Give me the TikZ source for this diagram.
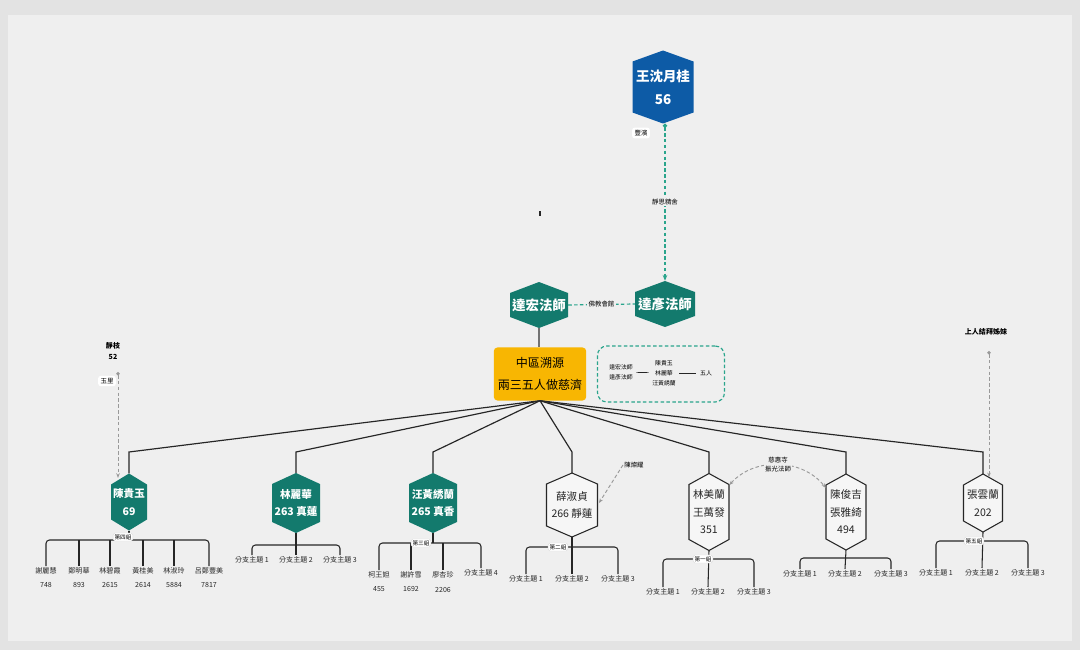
\documentclass[tikz,border=0pt]{standalone}
\usepackage{fontspec}
\setmainfont{Noto Sans CJK TC}
\usetikzlibrary{arrows.meta,calc}
\definecolor{hexteal}{HTML}{137A6D}
\definecolor{hexblue}{HTML}{0D5BA6}
\definecolor{hexyellow}{HTML}{F8B602}
\definecolor{dashteal}{HTML}{2AA58C}
\definecolor{bggray}{HTML}{EFEFEF}
\definecolor{framegray}{HTML}{E3E3E3}
\definecolor{linedark}{HTML}{262626}
\definecolor{hexwhite}{HTML}{F6F6F6}
% name, position, width, height, hexagon style, text style, text
\newcommand\hexnode[7]{%
  \path[#5] (#2) ++(0,-#4/2) -- ++(#3/2,11) -- ++(0,#4-22) -- ++(-#3/2,11)
    -- ++(-#3/2,-11) -- ++(0,-#4+22) -- cycle;
  \node[hextext, #6, minimum width=#3*0.3mm, minimum height=#4*0.3mm] (#1) at (#2) {#7};}
\begin{document}
\begin{tikzpicture}[x=0.03cm, y=-0.03cm,
    hextext/.style={inner sep=0pt, align=center},
    tealhex/.style={fill=hexteal},
    bluehex/.style={fill=hexblue},
    plainhex/.style={fill=hexwhite, draw=linedark, line width=0.9pt},
    bigtxt/.style={text=white, font=\bfseries\fontsize{11.5}{19.6}\selectfont},
    tealtxt/.style={text=white, font=\bfseries\fontsize{9}{15}\selectfont},
    plaintxt/.style={text=linedark, font=\fontsize{9}{15}\selectfont},
    fan/.style={draw=linedark, line width=1pt},
    branch/.style={draw=linedark, line width=0.9pt, rounded corners=3pt},
    leaf/.style={anchor=north, align=center, inner sep=1pt, text=linedark, font=\fontsize{6}{12.5}\selectfont},
    grp/.style={fill=white, draw=black!15, line width=0.3pt, rounded corners=1.5pt, inner sep=1.2pt, font=\fontsize{4.8}{5}\selectfont},
    tag/.style={fill=white, rounded corners=2pt, inner sep=2pt, font=\fontsize{5.5}{6}\selectfont},
    elabel/.style={fill=bggray, inner sep=1pt, align=center, font=\fontsize{5.5}{8}\selectfont},
    boxtxt/.style={align=center, inner sep=1pt, font=\fontsize{5}{8.5}\selectfont},
    tealdash/.style={draw=dashteal, line width=1pt, dash pattern=on 3pt off 2pt},
    graydash/.style={draw=black!40, line width=0.8pt, dash pattern=on 3pt off 2pt},
  ]
  \fill[framegray] (0,0) rectangle (1080,650);
  \fill[bggray] (8,15) rectangle (1072,641);
  \useasboundingbox (0,0) rectangle (1080,650);

  \hexnode{wsy}{663,87}{61}{73}{bluehex}{bigtxt}{王沈月桂\\56}
  \hexnode{dh}{539,305}{58}{46}{tealhex}{bigtxt}{達宏法師}
  \hexnode{dy}{665,304}{60}{46}{tealhex}{bigtxt}{達彥法師}
  \node[fill=hexyellow, rounded corners=3pt, minimum width=91*0.3mm, minimum height=53*0.3mm,
    align=center, font=\fontsize{10.3}{19}\selectfont] (zy) at (540,374) {中區溯源\\兩三五人做慈濟};
  \node[draw=dashteal, dash pattern=on 3pt off 2pt, line width=1pt, rounded corners=8pt,
    minimum width=127*0.3mm, minimum height=56*0.3mm] (bx) at (661,374) {};
  \node[boxtxt] (bx1) at (621,372) {達宏法師\\達彥法師};
  \node[boxtxt] (bx2) at (664,373) {陳貴玉\\林麗華\\汪黃綉蘭};
  \node[boxtxt] (bx3) at (706,373) {五人};
  \draw[linedark, line width=0.6pt, shorten <=2pt, shorten >=2pt] (bx1) -- (bx2);
  \draw[linedark, line width=0.6pt, shorten <=2pt, shorten >=2pt] (bx2) -- (bx3);

  \draw[tealdash, {Circle[length=3.5pt]}-{Stealth[length=5pt,width=4pt]}] (wsy.south -| dy.north)
    -- node[elabel] {靜思精舍} (dy.north);
  \node[tag] (fb) at (641,133) {豐濱};
  \draw[tealdash] (dh.east) -- node[elabel] {佛教會館} (dy.west);
  \draw[black!55, line width=1pt] (dh.south) -- (dh.south |- zy.north);
  \fill[linedark] (539,211) rectangle (541,216);

  \hexnode{cgy}{129,502}{36}{57}{tealhex}{tealtxt}{陳貴玉\\69}
  \hexnode{llh}{296,503}{48}{60}{tealhex}{tealtxt}{林麗華\\263 真蓮}
  \hexnode{whx}{433,503}{48}{60}{tealhex}{tealtxt}{汪黃綉蘭\\265 真香}
  \hexnode{xsz}{572,505}{51}{64}{plainhex}{plaintxt}{薛淑貞\\266 靜蓮}
  \hexnode{lml}{709,512}{40}{77}{plainhex}{plaintxt}{林美蘭\\王萬發\\351}
  \hexnode{cjj}{846,512}{40}{76}{plainhex}{plaintxt}{陳俊吉\\張雅綺\\494}
  \hexnode{zyl}{983,503}{39}{58}{plainhex}{plaintxt}{張雲蘭\\202}

  \coordinate (elbow) at (0,452);
  \draw[fan] (zy.south) -- (cgy.north |- elbow) -- (cgy.north);
  \draw[fan] (zy.south) -- (llh.north |- elbow) -- (llh.north);
  \draw[fan] (zy.south) -- (whx.north |- elbow) -- (whx.north);
  \draw[fan] (zy.south) -- (xsz.north |- elbow) -- (xsz.north);
  \draw[fan] (zy.south) -- (lml.north |- elbow) -- (lml.north);
  \draw[fan] (zy.south) -- (cjj.north |- elbow) -- (cjj.north);
  \draw[fan] (zy.south) -- (zyl.north |- elbow) -- (zyl.north);

  % 第四組
  \node[leaf] (cgy1) at (46,566) {謝麗慧\\748};
  \node[leaf] (cgy2) at (79,566) {鄭明華\\893};
  \node[leaf] (cgy3) at (110,566) {林碧霞\\2615};
  \node[leaf] (cgy4) at (143,566) {黃桂美\\2614};
  \node[leaf] (cgy5) at (174,566) {林淑玲\\5884};
  \node[leaf] (cgy6) at (209,566) {呂鄭豐美\\7817};
  \coordinate (cgyb) at (0,540);
  \draw[branch] (cgy1.north) -- (cgy1.north |- cgyb) -- (cgy6.north |- cgyb) -- (cgy6.north);
  \draw[branch] (cgy2.north) -- (cgy2.north |- cgyb);
  \draw[branch] (cgy3.north) -- (cgy3.north |- cgyb);
  \draw[branch] (cgy4.north) -- (cgy4.north |- cgyb);
  \draw[branch] (cgy5.north) -- (cgy5.north |- cgyb);
  \draw[branch] (cgy.south) -- (cgy.south |- cgyb);
  \node[grp] at (123,537) {第四組};

  \node[leaf] (llh1) at (252,555) {分支主題 1};
  \node[leaf] (llh2) at (296,555) {分支主題 2};
  \node[leaf] (llh3) at (340,555) {分支主題 3};
  \coordinate (llhb) at (0,545);
  \draw[branch] (llh1.north) -- (llh1.north |- llhb) -- (llh3.north |- llhb) -- (llh3.north);
  \draw[branch] (llh.south) -- (llh2.north);

  % 第三組
  \node[leaf] (whx1) at (379,570) {柯王妲\\455};
  \node[leaf] (whx2) at (411,570) {謝許雪\\1692};
  \node[leaf] (whx3) at (443,570) {廖杏珍\\2206};
  \node[leaf] (whx4) at (481,568) {分支主題 4};
  \coordinate (whxb) at (0,543);
  \draw[branch] (whx1.north) -- (whx1.north |- whxb) -- (whx4.north |- whxb) -- (whx4.north);
  \draw[branch] (whx2.north) -- (whx2.north |- whxb);
  \draw[branch] (whx3.north) -- (whx3.north |- whxb);
  \draw[branch] (whx.south) -- (whx.south |- whxb);
  \node[grp] at (421,543) {第三組};

  % 第二組
  \node[leaf] (xsz1) at (526,574) {分支主題 1};
  \node[leaf] (xsz2) at (572,574) {分支主題 2};
  \node[leaf] (xsz3) at (618,574) {分支主題 3};
  \coordinate (xszb) at (0,547);
  \draw[branch] (xsz1.north) -- (xsz1.north |- xszb) -- (xsz3.north |- xszb) -- (xsz3.north);
  \draw[branch] (xsz.south) -- (xsz2.north);
  \node[grp] at (558,547) {第二組};

  % 第一組
  \node[leaf] (lml1) at (663,587) {分支主題 1};
  \node[leaf] (lml2) at (708,587) {分支主題 2};
  \node[leaf] (lml3) at (754,587) {分支主題 3};
  \coordinate (lmlb) at (0,559);
  \draw[branch] (lml1.north) -- (lml1.north |- lmlb) -- (lml3.north |- lmlb) -- (lml3.north);
  \draw[branch] (lml.south) -- (lml2.north);
  \node[grp] at (703,559) {第一組};

  \node[leaf] (cjj1) at (800,569) {分支主題 1};
  \node[leaf] (cjj2) at (845,569) {分支主題 2};
  \node[leaf] (cjj3) at (891,569) {分支主題 3};
  \coordinate (cjjb) at (0,558);
  \draw[branch] (cjj1.north) -- (cjj1.north |- cjjb) -- (cjj3.north |- cjjb) -- (cjj3.north);
  \draw[branch] (cjj.south) -- (cjj2.north);

  % 第五組
  \node[leaf] (zyl1) at (936,568) {分支主題 1};
  \node[leaf] (zyl2) at (982,568) {分支主題 2};
  \node[leaf] (zyl3) at (1028,568) {分支主題 3};
  \coordinate (zylb) at (0,541);
  \draw[branch] (zyl1.north) -- (zyl1.north |- zylb) -- (zyl3.north |- zylb) -- (zyl3.north);
  \draw[branch] (zyl.south) -- (zyl2.north);
  \node[grp] at (974,541) {第五組};

  \node[align=center, font=\bfseries\fontsize{6}{10}\selectfont] (jz) at (113,351) {靜枝\\52};
  \coordinate (jzd) at (118,372);
  \draw[graydash, {Circle[length=3pt]}-{Stealth[length=4pt]}, shorten >=-4pt] (jzd) -- (jzd |- cgy.north);
  \node[tag] (yl) at (107,381) {玉里};

  \node[font=\bfseries\fontsize{6}{8}\selectfont] (sr) at (986,332) {上人結拜姊妹};
  \coordinate (srd) at (989,351);
  \draw[graydash, {Circle[length=3pt]}-{Stealth[length=4pt]}, shorten >=-3pt] (srd) -- (srd |- zyl.north);

  \node[elabel] (cyy) at (634,465) {陳燦耀};
  \draw[graydash, -{Stealth[length=4pt]}, shorten >=2pt] (cyy.west) -- (xsz.east);

  \draw[graydash, {Stealth[length=4pt]}-{Stealth[length=4pt]}] (lml.53) to[bend left=50]
    node[elabel] {慈惠寺\\振光法師} (cjj.130);
\end{tikzpicture}
\end{document}
